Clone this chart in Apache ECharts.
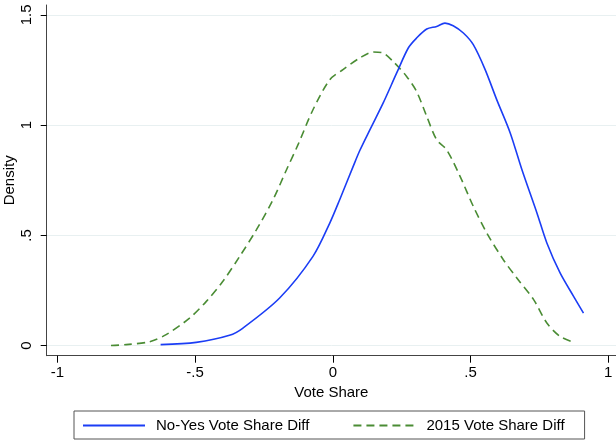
<!DOCTYPE html>
<html>
<head>
<meta charset="utf-8">
<script src="https://cdn.jsdelivr.net/npm/echarts@6/dist/echarts.min.js"></script>
<style>
  html, body { margin: 0; padding: 0; background: #fff; }
  #chart { width: 616px; height: 443px; }
</style>
</head>
<body>
<div id="chart"></div>
<script>
// Kernel density estimates of vote-share differences
const noYesX = [-0.625, -0.496, -0.375, -0.326, -0.193, -0.072, -0.011, 0.025, 0.074, 0.098,
  0.135, 0.183, 0.232, 0.274, 0.304, 0.341, 0.377, 0.407, 0.437, 0.474,
  0.510, 0.553, 0.595, 0.644, 0.686, 0.741, 0.777, 0.825, 0.874, 0.910];
const noYesY = [0.005, 0.015, 0.047, 0.080, 0.216, 0.405, 0.556, 0.662, 0.813, 0.885,
  0.980, 1.101, 1.237, 1.350, 1.395, 1.436, 1.448, 1.463, 1.451, 1.418,
  1.365, 1.252, 1.116, 0.965, 0.800, 0.602, 0.466, 0.330, 0.224, 0.148];

const diff2015X = [-0.805, -0.750, -0.665, -0.605, -0.520, -0.459, -0.399, -0.338, -0.277, -0.217,
  -0.168, -0.125, -0.072, -0.011, 0.037, 0.098, 0.147, 0.183, 0.219, 0.268,
  0.304, 0.341, 0.377, 0.413, 0.462, 0.510, 0.559, 0.619, 0.668, 0.729,
  0.777, 0.825, 0.872];
const diff2015Y = [0.001, 0.005, 0.018, 0.050, 0.125, 0.201, 0.292, 0.405, 0.526, 0.662,
  0.798, 0.915, 1.070, 1.206, 1.252, 1.305, 1.332, 1.327, 1.289, 1.221,
  1.153, 1.040, 0.934, 0.889, 0.768, 0.632, 0.511, 0.390, 0.307, 0.209,
  0.103, 0.042, 0.017];

const xTicks = [-1, -0.5, 0, 0.5, 1];
const yTicks = [0, 0.5, 1, 1.5];
const seriesNames = ['No-Yes Vote Share Diff', '2015 Vote Share Diff'];

const pairs = (xs, ys) => xs.map((x, i) => [x, ys[i]]);
// Stata-style tick text: drop the leading zero (".5", "-.5")
const fmt = v => String(v).replace(/^(-?)0\./, '$1.');

const FONT = "'Liberation Sans', Arial, Helvetica, sans-serif";
const chart = echarts.init(document.getElementById('chart'));
chart.setOption({
  animation: false,
  backgroundColor: '#ffffff',
  textStyle: { fontFamily: FONT, color: '#000' },
  grid: { left: 46.7, right: 0, top: 5, bottom: 87.3, containLabel: false, outerBoundsMode: 'none' },
  xAxis: {
    type: 'value',
    min: -1.0385,
    max: 1.028,
    name: 'Vote Share',
    nameLocation: 'middle',
    nameGap: 30,
    nameMoveOverlap: false,
    nameTextStyle: { fontSize: 15, color: '#000', fontFamily: FONT },
    axisLine: { show: true, onZero: false, lineStyle: { color: '#444', width: 1 } },
    axisTick: { show: true, customValues: xTicks, length: 7, lineStyle: { color: '#000', width: 1 } },
    axisLabel: { customValues: xTicks, formatter: fmt, fontSize: 15, color: '#000', margin: 10, fontFamily: FONT },
    splitLine: { show: false }
  },
  yAxis: {
    type: 'value',
    min: -0.0454,
    max: 1.545,
    name: 'Density',
    nameLocation: 'middle',
    nameRotate: 90,
    nameGap: 29,
    nameMoveOverlap: false,
    nameTextStyle: { fontSize: 15, color: '#000', fontFamily: FONT },
    axisLine: { show: true, onZero: false, lineStyle: { color: '#444', width: 1 } },
    axisTick: { show: true, customValues: yTicks, length: 6, lineStyle: { color: '#000', width: 1 } },
    axisLabel: { customValues: yTicks, formatter: fmt, rotate: 90, fontSize: 15, color: '#000', margin: 12, fontFamily: FONT },
    splitLine: { show: true, lineStyle: { color: '#e8f0f1', width: 1 } }
  },
  legend: {
    left: 74,
    top: 411,
    orient: 'horizontal',
    padding: [7, 20, 6, 8],
    itemWidth: 62,
    itemHeight: 14,
    itemGap: 43,
    borderColor: '#555',
    borderWidth: 1,
    itemStyle: { opacity: 0 },
    textStyle: { fontSize: 15, color: '#000', fontFamily: FONT, padding: [0, 0, 0, 6] },
    data: seriesNames
  },
  series: [
    {
      name: seriesNames[0],
      type: 'line',
      data: pairs(noYesX, noYesY),
      smooth: 0.3,
      symbol: 'none',
      lineStyle: { color: '#1b3df5', width: 1.6 },
      itemStyle: { color: '#1b3df5' },
      z: 3
    },
    {
      name: seriesNames[1],
      type: 'line',
      data: pairs(diff2015X, diff2015Y),
      smooth: 0.3,
      symbol: 'none',
      lineStyle: { color: '#4a8c34', width: 1.6, type: [8, 5] },
      itemStyle: { color: '#4a8c34' },
      z: 2
    }
  ]
});
</script>
</body>
</html>
